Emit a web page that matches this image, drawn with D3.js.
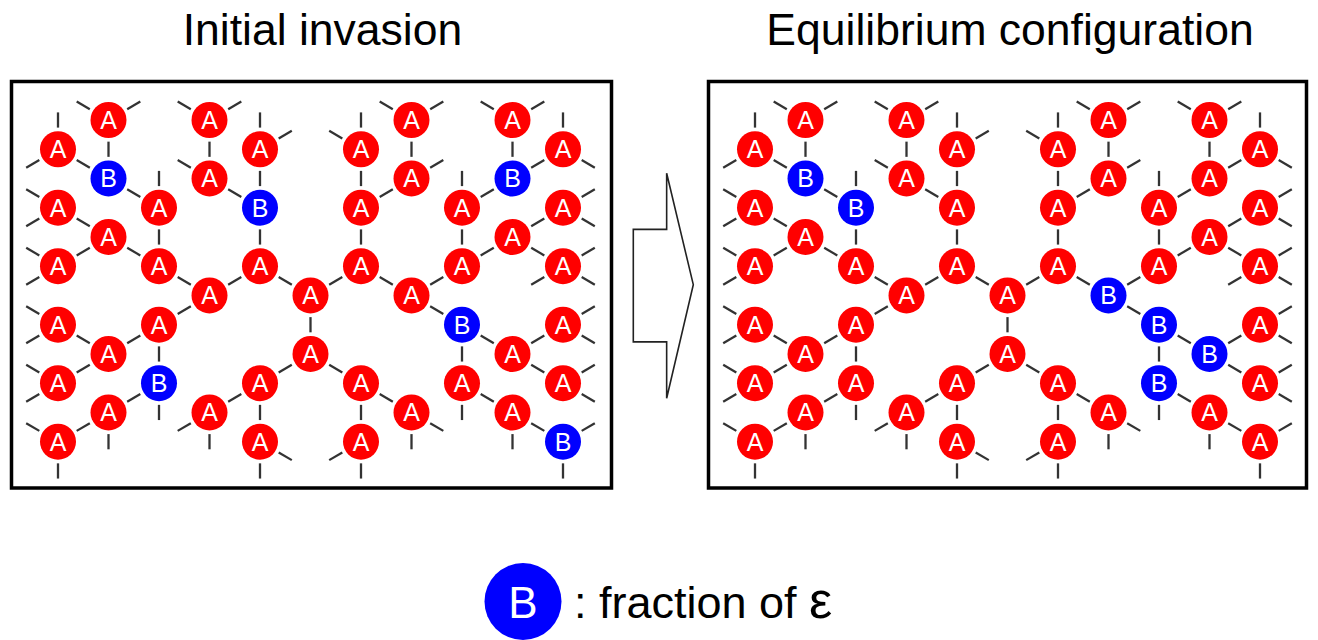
<!DOCTYPE html>
<html>
<head>
<meta charset="utf-8">
<script src="https://cdn.jsdelivr.net/npm/d3@7"></script>
<style>
  html, body { margin: 0; padding: 0; background: #fff; }
  svg { display: block; }
  text { font-family: "Liberation Sans", Arial, sans-serif; }
</style>
</head>
<body>
<svg id="chart" width="1318" height="640"></svg>
<script>
// ---- Data ----
const panelTitles = ["Initial invasion", "Equilibrium configuration"];
const legendText = ": fraction of ";
const legendSymbol = "\u03b5";
// lattice sites [col, row] of the degree-3 tree, with the directions of their three bonds
const sites = [
  [1,0,"UL UR D"], [3,0,"UL UR D"], [7,0,"UL UR D"], [9,0,"UL UR D"],
  [0,1,"U DL DR"], [4,1,"U UR D"], [6,1,"U UL D"], [10,1,"U DL DR"],
  [1,2,"U UL DR"], [3,2,"U UL DR"], [7,2,"U UR DL"], [9,2,"U UR DL"],
  [0,3,"UL DL DR"], [2,3,"U UL D"], [4,3,"U UL D"], [6,3,"U UR D"], [8,3,"U UR D"], [10,3,"UR DR DL"],
  [1,4,"UL DL DR"], [9,4,"UR DR DL"],
  [0,5,"UR UL DL"], [2,5,"U UL DR"], [4,5,"U DL DR"], [6,5,"U DL DR"], [8,5,"U UR DL"], [10,5,"DL UR DR"],
  [3,6,"UL UR DL"], [5,6,"UL UR D"], [7,6,"UL UR DR"],
  [0,7,"UL DL DR"], [2,7,"UR DL D"], [8,7,"UL DR D"], [10,7,"UR DR DL"],
  [1,8,"UL UR DL"], [5,8,"U DL DR"], [9,8,"UL UR DR"],
  [0,9,"UR UL DL"], [2,9,"U DL D"], [4,9,"UR DL D"], [6,9,"UL DR D"], [8,9,"U DR D"], [10,9,"UL UR DR"],
  [1,10,"UR DL D"], [3,10,"UR DL D"], [7,10,"UL DR D"], [9,10,"UL DR D"],
  [0,11,"UR UL D"], [4,11,"U DR D"], [6,11,"U DL D"], [10,11,"UL UR D"]
];
// sites occupied by B in each panel
const bSitesInitial = [[1,2],[4,3],[9,2],[8,7],[2,9],[10,11]];
const bSitesEquilibrium = [[1,2],[2,3],[7,6],[8,7],[9,8],[8,9]];
const colors = { A: "#ff0000", B: "#0000ff" };

// ---- Drawing ----
const svg = d3.select("#chart");
const dirVec = { U:[0,-2], D:[0,2], UL:[-1,-1], UR:[1,-1], DL:[-1,1], DR:[1,1] };

const yScale = d3.scaleLinear().domain([0, 11]).range([120, 441.7]);
const panels = [
  { title: panelTitles[0], titleX: 322.5, x: d3.scaleLinear().domain([0,10]).range([58, 563]),
    box: [11.5, 81.5, 611.5, 488], bs: bSitesInitial },
  { title: panelTitles[1], titleX: 1010, x: d3.scaleLinear().domain([0,10]).range([755, 1260]),
    box: [708.5, 81.5, 1306.5, 488], bs: bSitesEquilibrium }
];

const R = 18, segFrac = 0.13;

panels.forEach(p => {
  const g = svg.append("g");
  g.append("text").attr("x", p.titleX).attr("y", 45).attr("text-anchor", "middle")
    .attr("font-size", 44.5).attr("fill", "#000").text(p.title);
  g.append("rect").attr("x", p.box[0]).attr("y", p.box[1])
    .attr("width", p.box[2]-p.box[0]).attr("height", p.box[3]-p.box[1])
    .attr("fill", "#fff").attr("stroke", "#000").attr("stroke-width", 3.5);

  // bonds (short segments centred on each bond)
  const segs = new Map();
  sites.forEach(([c, r, dirs]) => {
    dirs.split(" ").forEach(d => {
      const v = dirVec[d];
      const x1 = p.x(c), y1 = yScale(r), x2 = p.x(c + v[0]), y2 = yScale(r + v[1]);
      const mx = (x1+x2)/2, my = (y1+y2)/2;
      const key = Math.round(mx) + "," + Math.round(my);
      if (!segs.has(key)) segs.set(key, { mx, my, dx: (x2-x1)*segFrac, dy: (y2-y1)*segFrac });
    });
  });
  g.selectAll("line.bond").data([...segs.values()]).join("line").attr("class","bond")
    .attr("x1", s => s.mx - s.dx).attr("y1", s => s.my - s.dy)
    .attr("x2", s => s.mx + s.dx).attr("y2", s => s.my + s.dy)
    .attr("stroke", "#333").attr("stroke-width", 2.3);

  const isB = (c, r) => p.bs.some(b => b[0] === c && b[1] === r);
  const nodes = g.selectAll("g.node").data(sites).join("g").attr("class", "node")
    .attr("transform", d => `translate(${p.x(d[0])},${yScale(d[1])})`);
  nodes.append("circle").attr("r", R).attr("fill", d => isB(d[0], d[1]) ? colors.B : colors.A);
  nodes.append("text").attr("text-anchor", "middle").attr("y", 9)
    .attr("font-size", 25).attr("fill", "#fff")
    .text(d => isB(d[0], d[1]) ? "B" : "A");
});

// arrow between panels
const ax = d3.scaleLinear().domain([0, 1]).range([633.3, 693.3]);
const ay = d3.scaleLinear().domain([0, 1]).range([173.3, 398.3]);
const arrowShape = [[0.556,0],[0.556,0.249],[0,0.249],[0,0.749],[0.556,0.749],[0.556,1],[1,0.495]];
svg.append("path")
  .attr("d", d3.line().x(d => ax(d[0])).y(d => ay(d[1]))(arrowShape) + "Z")
  .attr("fill", "#fff").attr("stroke", "#222").attr("stroke-width", 1.6);

// legend
const lg = svg.append("g");
lg.append("circle").attr("cx", 523).attr("cy", 601.5).attr("r", 38.5).attr("fill", colors.B);
lg.append("text").attr("x", 523).attr("y", 617.5).attr("text-anchor", "middle")
  .attr("font-size", 44).attr("fill", "#fff").text("B");
const lt = lg.append("text").attr("x", 574).attr("y", 618).attr("font-size", 45).attr("fill", "#000");
lt.append("tspan").text(legendText);
lt.append("tspan").attr("font-size", 52).text(legendSymbol);
</script>
</body>
</html>
